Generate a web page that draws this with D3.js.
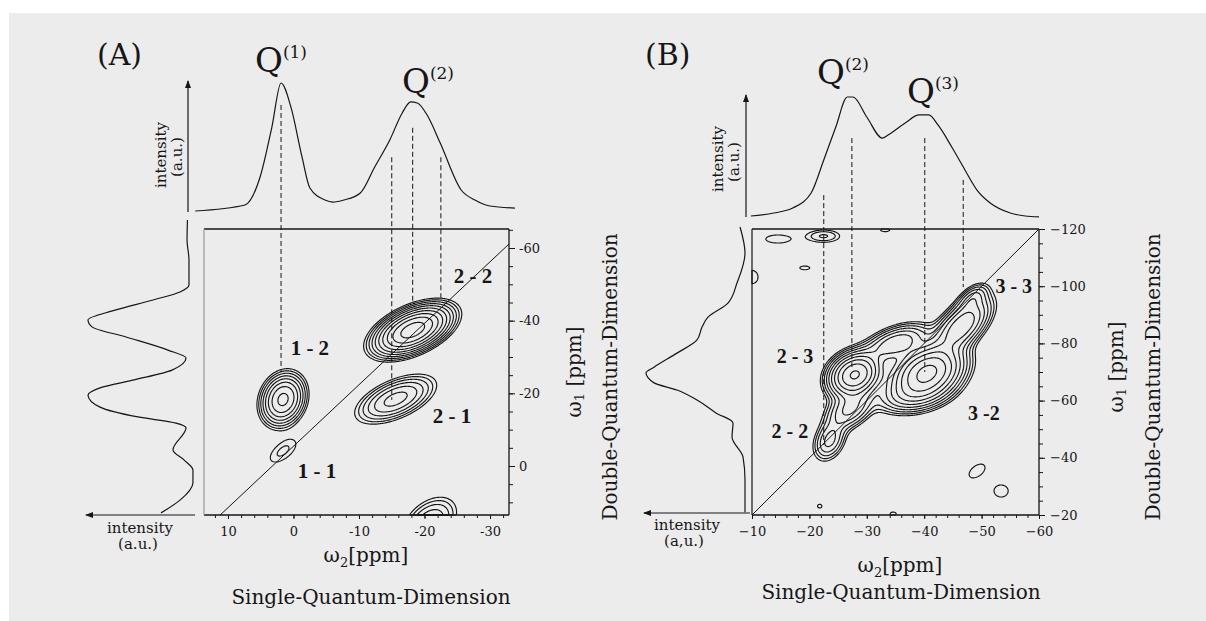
<!DOCTYPE html>
<html>
<head>
<meta charset="utf-8">
<script src="https://cdn.jsdelivr.net/npm/d3@7"></script>
<style>
  body { margin: 0; background: #fff; }
  svg { display: block; }
</style>
</head>
<body>
<div class="figure"></div>
<script>
// ---------------- data ----------------
// contour levels (arbitrary intensity units, geometric spacing)
const contourLevels = [1, 1.45, 2.1, 3.05, 4.4, 6.4, 9.3, 13.5, 19.6, 28.4, 41.2];

// panel A peaks: [w2, w1, sd w2, sd w1, rho, height]  (ppm)
const peaksA = [
  [1.6, -18.3, 1.71, 3.65, 0.17, 15],    // 1 - 2
  [1.6, -4.1, 2.0, 3.1, 0.6, 1.6],       // 1 - 1
  [-18.2, -37.4, 2.81, 3.30, 0.5, 35],   // 2 - 2
  [-15.6, -18.4, 3.12, 3.43, 0.55, 7.5], // 2 - 1
  [-20.8, 15.5, 2.36, 3.98, 0.4, 4.5]    // cut at the bottom
];
// panel A projections: [ppm, intensity %]
const topProjA = [[15.0,0],[7.4,4.7],[5.1,26.6],[3.3,65.6],[1.9,100],[0.4,81.3],[-1.3,42.2],
  [-2.5,18.0],[-4.8,8.6],[-6.0,7.0],[-7.7,8.6],[-10.2,14.1],[-12.4,34.4],[-14.7,55.5],
  [-16.6,76.6],[-17.9,85.2],[-18.9,84.4],[-20.4,75.0],[-22.4,53.1],[-25.6,16.4],
  [-27.7,8.6],[-30.0,3.9],[-33.8,2.3]];
const leftProjA = [[-67.7,2.5],[-62.2,2.9],[-56.7,1.0],[-49.8,1.0],[-47.9,9.8],[-45.7,36.3],
  [-42.9,73.5],[-40.2,100],[-38.3,96.1],[-35.5,62.7],[-31.9,21.6],[-29.7,3.9],[-26.4,17.6],
  [-23.7,54.9],[-21.5,88.2],[-19.5,100],[-16.2,88.2],[-13.5,51.0],[-11.8,13.7],[-10.5,3.9],
  [-4.4,16.7],[-1.7,5.9],[1.1,-2.9],[4.6,-2.9],[9.4,9.8],[12.9,28.4]];
// dashed guides: [w2, start intensity in top projection, end w1]
const dashA = [[1.9, 82.8, -25.9], [-15.0, 42, -18.2], [-18.2, 65, -45.1], [-22.5, 42, -45.7]];
const diagA = [[11.2, 13.5], [-32.9, -61.1]];
const labelsA = [["1 - 2", -2.5, -30.5], ["2 - 2", -27.4, -50.4], ["2 - 1", -24.2, -11.8], ["1 - 1", -3.6, 3.3]];
const ticksAw2 = [10, 0, -10, -20, -30];
const ticksAw1 = [-60, -40, -20, 0];

// panel B peaks
const peaksB = [
  [-27.9, -69.0, 2.3, 4.0, 0.2, 30],   // 2 - 3 core
  [-40.5, -69.7, 3.2, 5.0, 0.3, 32],   // Q3 core
  [-46.5, -86.0, 2.7, 5.4, 0.6, 13],
  [-48.5, -96.0, 1.5, 2.8, 0.5, 4],    // 3 - 3 tip
  [-23.5, -46.0, 1.6, 4.0, 0.3, 5],    // 2 - 2
  [-27.0, -57.0, 2.3, 4.0, 0.4, 7],
  [-35.0, -80.0, 3.1, 3.6, 0.5, 9],
  [-38.0, -62.0, 3.5, 3.5, 0.3, 6],
  [-14.5, -116.5, 2.7, 1.8, 0, 1.35],  // noise
  [-22.5, -117.5, 2.2, 1.7, 0, 2.2],
  [-33.2, -119.6, 1.5, 1.0, 0, 1.15],
  [-19.2, -106.4, 2.0, 1.5, 0, 1.1],
  [-10.0, -103.2, 1.45, 3.2, 0, 1.3],
  [-49.2, -35.4, 1.9, 3.3, 0.5, 1.3],
  [-53.4, -28.4, 1.7, 2.9, 0, 1.3],
  [-21.8, -23.1, 0.9, 1.5, 0, 1.1],
  [-34.6, -20.4, 1.2, 1.5, 0, 1.1]
];
const topProjB = [[-9.8,0],[-13.8,2.5],[-17.1,6.7],[-20.3,19.3],[-22.5,47.1],[-24.6,74.8],
  [-26.6,100],[-27.6,100],[-30.0,83.2],[-32.7,65.5],[-33.7,68.1],[-36.7,78.2],[-39.1,84.9],
  [-40.8,84.9],[-42.4,76.5],[-44.8,58.0],[-47.1,38.7],[-49.2,21.8],[-51.5,10.9],
  [-55.0,2.5],[-57.6,0],[-60.0,-0.8]];
const leftProjB = [[-120.7,5],[-111.6,0],[-101.1,8.1],[-94.1,17.2],[-89.2,37.4],[-85.7,43.4],
  [-81.2,48.5],[-76.6,68.7],[-71.7,91.9],[-69.7,100],[-66.2,91.9],[-63.7,68.7],[-60.2,48.5],
  [-55.7,29.3],[-52.2,12.1],[-47.3,13.1],[-40.3,2.0],[-32.2,0],[-21.0,0]];
const dashB = [[-22.5, 17.6, -44.5], [-27.4, 65.5, -70.7], [-40.1, 65.5, -70.0], [-46.8, 30.3, -99.7]];
const diagB = [[-10, -20], [-60, -120]];
const labelsB = [["2 - 3", -17.5, -73.1], ["2 - 2", -16.6, -46.9], ["3 - 3", -55.6, -97.6], ["3 -2", -50.4, -53.2]];
const ticksBw2 = [-10, -20, -30, -40, -50, -60];
const ticksBw1 = [-120, -100, -80, -60, -40, -20];

// ---------------- drawing ----------------
const ink = '#161616';
const serif = '"DejaVu Serif", serif';

const svg = d3.select('.figure').append('svg')
  .attr('width', 1206)
  .attr('height', 621);

svg.append('rect').attr('width', 1206).attr('height', 621).attr('fill', '#fff');
svg.append('rect').attr('x', 9).attr('y', 13).attr('width', 1197).attr('height', 608).attr('fill', '#ececec');

const defs = svg.append('defs');
defs.append('marker')
  .attr('id', 'arrow')
  .attr('viewBox', '0 0 8 6')
  .attr('refX', 7).attr('refY', 3)
  .attr('markerWidth', 8).attr('markerHeight', 6)
  .attr('markerUnits', 'userSpaceOnUse')
  .attr('orient', 'auto')
  .append('path').attr('d', 'M0,0L8,3L0,6z').attr('fill', ink);

function addText(g, x, y, str, size, opts) {
  opts = opts || {};
  return g.append('text')
    .attr('x', x).attr('y', y)
    .attr('font-family', opts.family || serif)
    .attr('font-size', size)
    .attr('font-weight', opts.weight || 'normal')
    .attr('text-anchor', opts.anchor || 'start')
    .attr('fill', ink)
    .text(str);
}

function rotLabel(g, x, y, size) {
  return g.append('text')
    .attr('transform', `translate(${x},${y}) rotate(-90)`)
    .attr('font-family', serif)
    .attr('font-size', size)
    .attr('text-anchor', 'middle')
    .attr('dominant-baseline', 'central')
    .attr('fill', ink);
}

function qLabel(g, x, y, n) {
  const t = addText(g, x, y, 'Q', 34);
  t.append('tspan').attr('font-size', 17).attr('dy', -14).text(`(${n})`);
}

function omegaLabel(t, sub, gap) {
  t.append('tspan').text('ω');
  t.append('tspan').attr('font-size', 13).attr('dy', 5).text(sub);
  t.append('tspan').attr('dy', -5).text((gap ? ' ' : '') + '[ppm]');
}

// contours of the 2D map through d3.contours
function drawContours(g, peaks, xs, ys, box) {
  const n = box.w, m = box.h;
  const vals = new Float64Array(n * m);
  for (let j = 0; j < m; j++) {
    const w1 = ys.invert(box.y + j + 0.5);
    for (let i = 0; i < n; i++) {
      const w2 = xs.invert(box.x + i + 0.5);
      let s = 0;
      for (let k = 0; k < peaks.length; k++) {
        const p = peaks[k];
        const dx = (w2 - p[0]) / p[2], dy = (w1 - p[1]) / p[3], r = p[4];
        const q = (dx * dx - 2 * r * dx * dy + dy * dy) / (2 * (1 - r * r));
        if (q < 30) s += p[5] * Math.exp(-q);
      }
      vals[j * n + i] = s;
    }
  }
  const contours = d3.contours().size([n, m]).thresholds(contourLevels)(vals);
  g.append('g')
    .attr('transform', `translate(${box.x},${box.y})`)
    .selectAll('path')
    .data(contours)
    .join('path')
      .attr('d', d3.geoPath())
      .attr('fill', 'none')
      .attr('stroke', ink)
      .attr('stroke-width', 1.15);
}

function styleAxis(sel, size) {
  sel.attr('font-family', serif).attr('font-size', size);
  sel.select('.domain').remove();
  sel.selectAll('line').attr('stroke', ink);
  sel.selectAll('text').attr('fill', ink);
}

function drawPanel(p) {
  const g = svg.append('g');
  const box = p.box, xs = p.x, ys = p.y;

  // 2D map
  drawContours(g, p.peaks, xs, ys, box);

  // diagonal
  g.append('line')
    .attr('x1', xs(p.diag[0][0])).attr('y1', ys(p.diag[0][1]))
    .attr('x2', xs(p.diag[1][0])).attr('y2', ys(p.diag[1][1]))
    .attr('stroke', ink).attr('stroke-width', 1);

  // frame
  g.append('line').attr('x1', box.x).attr('x2', box.x + box.w).attr('y1', box.y).attr('y2', box.y)
    .attr('stroke', ink).attr('stroke-width', 1.3);
  g.append('line').attr('x1', box.x).attr('x2', box.x + box.w).attr('y1', box.y + box.h).attr('y2', box.y + box.h)
    .attr('stroke', ink).attr('stroke-width', 1.3);
  g.append('line').attr('x1', box.x + box.w).attr('x2', box.x + box.w).attr('y1', box.y).attr('y2', box.y + box.h)
    .attr('stroke', ink).attr('stroke-width', 1.3);
  g.append('line').attr('x1', box.x).attr('x2', box.x).attr('y1', box.y).attr('y2', box.y + box.h)
    .attr('stroke', p.leftEdge).attr('stroke-width', 1.2);

  // axes
  const x0 = xs.invert(box.x), x1 = xs.invert(box.x + box.w);
  const y0 = ys.invert(box.y), y1 = ys.invert(box.y + box.h);
  const minorX = d3.range(Math.ceil(Math.min(x0, x1) / 2) * 2, Math.max(x0, x1), 2);
  const minorY = d3.range(Math.ceil(Math.min(y0, y1) / 5) * 5, Math.max(y0, y1), 5);

  g.append('g').attr('transform', `translate(0,${box.y + box.h})`)
    .call(d3.axisBottom(xs).tickValues(minorX).tickSize(3).tickFormat(''))
    .call(s => styleAxis(s, 13));
  g.append('g').attr('transform', `translate(0,${box.y + box.h})`)
    .call(d3.axisBottom(xs).tickValues(p.ticksX).tickSize(4).tickPadding(8).tickFormat(p.fmt))
    .call(s => styleAxis(s, 13));
  g.append('g').attr('transform', `translate(${box.x + box.w},0)`)
    .call(d3.axisRight(ys).tickValues(minorY).tickSize(4).tickFormat(''))
    .call(s => styleAxis(s, 13));
  g.append('g').attr('transform', `translate(${box.x + box.w},0)`)
    .call(d3.axisRight(ys).tickValues(p.ticksY).tickSize(6).tickPadding(p.padY).tickFormat(p.fmt))
    .call(s => styleAxis(s, 13));

  // top projection
  const lineTop = d3.line()
    .x(d => xs(d[0]))
    .y(d => p.top(d[1]))
    .curve(d3.curveMonotoneX);
  g.append('path').datum(p.topProj)
    .attr('d', lineTop).attr('fill', 'none').attr('stroke', ink).attr('stroke-width', 1.2);

  // left projection
  const lineLeft = d3.line()
    .x(d => p.left(d[1]))
    .y(d => ys(d[0]))
    .curve(d3.curveMonotoneY);
  g.append('path').datum(p.leftProj)
    .attr('d', lineLeft).attr('fill', 'none').attr('stroke', ink).attr('stroke-width', 1.2);

  // projection axes with arrows
  g.append('line')
    .attr('x1', p.topAxisX).attr('x2', p.topAxisX)
    .attr('y1', p.top(0) + 1).attr('y2', p.top(100) - 2)
    .attr('stroke', ink).attr('stroke-width', 1.2).attr('marker-end', 'url(#arrow)');
  g.append('line')
    .attr('x1', p.left(0) + 5).attr('x2', p.left(100) - 2)
    .attr('y1', p.leftAxisY).attr('y2', p.leftAxisY)
    .attr('stroke', ink).attr('stroke-width', 1.2).attr('marker-end', 'url(#arrow)');

  // dashed guides
  g.selectAll('.guide')
    .data(p.dash)
    .join('line')
      .attr('class', 'guide')
      .attr('x1', d => xs(d[0])).attr('x2', d => xs(d[0]))
      .attr('y1', d => p.top(d[1])).attr('y2', d => ys(d[2]))
      .attr('stroke', ink).attr('stroke-width', 1)
      .attr('stroke-dasharray', '5,3');

  // cross-peak labels
  g.selectAll('.peaklabel')
    .data(p.labels)
    .join('text')
      .attr('class', 'peaklabel')
      .attr('x', d => xs(d[1])).attr('y', d => ys(d[2]))
      .attr('text-anchor', 'middle')
      .attr('font-family', '"Liberation Serif", serif')
      .attr('font-weight', 'bold')
      .attr('font-size', p.labelSize)
      .attr('fill', ink)
      .text(d => d[0]);

  return g;
}

// ----- panel A -----
const boxA = {x: 204, y: 229, w: 305, h: 286};
const gA = drawPanel({
  box: boxA,
  x: d3.scaleLinear().domain([10, -30]).range([228, 490]),
  y: d3.scaleLinear().domain([-60, 0]).range([248, 466]),
  top: d3.scaleLinear().domain([0, 100]).range([211, 83]),
  left: d3.scaleLinear().domain([0, 100]).range([190, 88]),
  peaks: peaksA, topProj: topProjA, leftProj: leftProjA,
  dash: dashA, diag: diagA, labels: labelsA,
  ticksX: ticksAw2, ticksY: ticksAw1, fmt: d => String(d), padY: 4,
  leftEdge: '#9a9a9a', topAxisX: 188, leftAxisY: 515, labelSize: 21
});

addText(gA, 97, 65, '(A)', 30);
qLabel(gA, 255, 72, 1);
qLabel(gA, 402, 93, 2);
let t = rotLabel(gA, 161, 155, 15); t.text('intensity');
t = rotLabel(gA, 177, 157, 15); t.text('(a.u.)');
addText(gA, 140, 533, 'intensity', 15, {anchor: 'middle'});
addText(gA, 138, 549, '(a.u.)', 15, {anchor: 'middle'});
t = addText(gA, 366, 562, '', 20, {anchor: 'middle'}); omegaLabel(t, '2', false);
addText(gA, 371, 604, 'Single-Quantum-Dimension', 20, {anchor: 'middle'});
t = rotLabel(gA, 574, 372, 20); omegaLabel(t, '1', true);
t = rotLabel(gA, 610, 377, 20); t.text('Double-Quantum-Dimension');

// ----- panel B -----
const boxB = {x: 752, y: 229, w: 287, h: 286};
const gB = drawPanel({
  box: boxB,
  x: d3.scaleLinear().domain([-10, -60]).range([752, 1039]),
  y: d3.scaleLinear().domain([-120, -20]).range([229, 515]),
  top: d3.scaleLinear().domain([0, 100]).range([216, 97]),
  left: d3.scaleLinear().domain([0, 100]).range([745, 646]),
  peaks: peaksB, topProj: topProjB, leftProj: leftProjB,
  dash: dashB, diag: diagB, labels: labelsB,
  ticksX: ticksBw2, ticksY: ticksBw1, fmt: d3.format('d'), padY: 5,
  leftEdge: ink, topAxisX: 746, leftAxisY: 513, labelSize: 20
});

addText(gB, 645, 65, '(B)', 30);
qLabel(gB, 817, 84, 2);
qLabel(gB, 907, 103, 3);
t = rotLabel(gB, 718, 159, 15); t.text('intensity');
t = rotLabel(gB, 734, 162, 15); t.text('(a.u.)');
addText(gB, 687, 530, 'intensity', 15, {anchor: 'middle'});
addText(gB, 684, 546, '(a,u.)', 15, {anchor: 'middle'});
t = addText(gB, 900, 572, '', 20, {anchor: 'middle'}); omegaLabel(t, '2', false);
addText(gB, 901, 599, 'Single-Quantum-Dimension', 20, {anchor: 'middle'});
t = rotLabel(gB, 1116, 367, 20); omegaLabel(t, '1', true);
t = rotLabel(gB, 1153, 377, 20); t.text('Double-Quantum-Dimension');
</script>
</body>
</html>
